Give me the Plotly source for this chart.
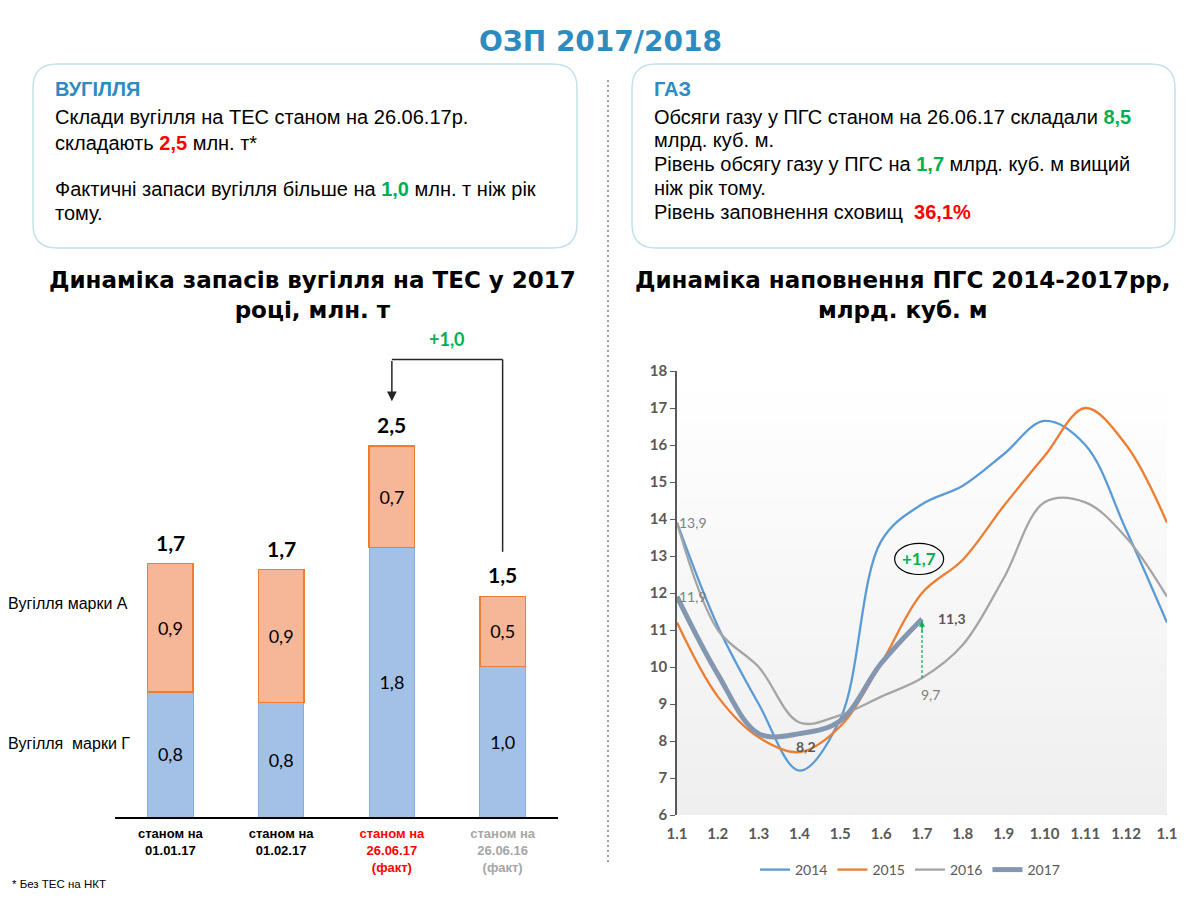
import plotly.graph_objects as go

# ---------------- data ----------------
coal_categories = ["01.01.17", "01.02.17", "26.06.17", "26.06.16"]
coal_grade_g = [0.84, 0.77, 1.81, 1.01]   # Вугілля марки Г
coal_grade_a = [0.86, 0.89, 0.68, 0.47]   # Вугілля марки А

months = ["1.1", "1.2", "1.3", "1.4", "1.5", "1.6", "1.7", "1.8", "1.9", "1.10", "1.11", "1.12", "1.1"]
gas_2014 = [13.9, 11.1, 9.0, 7.2, 8.6, 13.4, 14.4, 14.9, 15.75, 16.65, 16.0, 13.7, 11.2]
gas_2015 = [11.2, 9.2, 8.1, 7.7, 8.4, 10.1, 12.0, 12.9, 14.35, 15.7, 17.0, 16.0, 13.9]
gas_2016 = [13.9, 11.0, 10.0, 8.5, 8.7, 9.2, 9.7, 10.6, 12.4, 14.45, 14.45, 13.5, 11.9]
gas_2017 = [11.9, 9.8, 8.2, 8.2, 8.55, 10.1, 11.3]

# page is 1200x900; the browser body keeps an 8px margin around the figure
OFF = 8
W, H = 1200 - 2 * OFF, 900 - 2 * OFF


def px(x):
    return (x - OFF) / W


def py(y):
    return 1 - (y - OFF) / H


def fmt(v):
    return f"{v:.1f}".replace(".", ",")


fig = go.Figure()
annotations = []
shapes = []

# ---------------- bar chart ----------------
xi = list(range(len(coal_categories)))
fig.add_trace(go.Bar(
    x=xi, y=coal_grade_g, name="Вугілля марки Г",
    marker=dict(color="#a3c1e7", line=dict(color="#86acdc", width=1)),
    width=0.41, texttemplate="%{y:.1f}", textposition="inside",
    insidetextanchor="middle", textfont=dict(family="Lato", size=18, color="#000000"),
    showlegend=False, xaxis="x", yaxis="y", hoverinfo="skip"))
fig.add_trace(go.Bar(
    x=xi, y=coal_grade_a, name="Вугілля марки А",
    marker=dict(color="#f6b698", line=dict(color="#ED7D31", width=1.5)),
    width=0.41, texttemplate="%{y:.1f}", textposition="inside",
    insidetextanchor="middle", textfont=dict(family="Lato", size=18, color="#000000"),
    showlegend=False, xaxis="x", yaxis="y", hoverinfo="skip"))
totals = [g + a for g, a in zip(coal_grade_g, coal_grade_a)]
for i, t in zip(xi, totals):
    annotations.append(dict(x=i, y=t, xref="x", yref="y", text=f"<b>{fmt(t)}</b>", showarrow=False,
                            yanchor="bottom", yshift=7,
                            font=dict(family="Lato", size=21, color="#000000")))

label_colors = ["#000000", "#000000", "#FF0000", "#A6A6A6"]
ticktext = []
for cat, col in zip(coal_categories, label_colors):
    lines = ["станом на", cat]
    if col in ("#FF0000", "#A6A6A6"):
        lines.append("(факт)")
    ticktext.append("<br>".join(f"<span style='color:{col}'><b>{ln}</b></span>" for ln in lines))

# ---------------- line chart ----------------
mx = list(range(len(months)))
fig.add_trace(go.Scatter(x=mx, y=gas_2014, name="2014", mode="lines",
                         line=dict(color="#5B9BD5", width=2.3, shape="spline"),
                         xaxis="x2", yaxis="y2", cliponaxis=False))
fig.add_trace(go.Scatter(x=mx, y=gas_2015, name="2015", mode="lines",
                         line=dict(color="#ED7D31", width=2.3, shape="spline"),
                         xaxis="x2", yaxis="y2", cliponaxis=False))
fig.add_trace(go.Scatter(x=mx, y=gas_2016, name="2016", mode="lines",
                         line=dict(color="#A5A5A5", width=2.3, shape="spline"),
                         xaxis="x2", yaxis="y2", cliponaxis=False))
fig.add_trace(go.Scatter(x=mx[:len(gas_2017)], y=gas_2017, name="2017", mode="lines",
                         line=dict(color="#8497B0", width=5, shape="spline"),
                         xaxis="x2", yaxis="y2", cliponaxis=False))

# gradient background of line chart
N = 45
for i in range(N):
    t = i / (N - 1)
    c = int(round(0xEF + (0xFF - 0xEF) * t))
    shapes.append(dict(type="rect", xref="x2 domain", yref="y2 domain",
                       x0=0, x1=1, y0=i / N, y1=(i + 1) / N + 0.001,
                       fillcolor=f"rgb({c},{c},{c})", line=dict(width=0), layer="below"))


# rounded info boxes
def rrect(x0, y0, x1, y1, r):
    pts = [("M", (x0 + r, y0)), ("L", (x1 - r, y0)), ("Q", (x1, y0), (x1, y0 + r)),
           ("L", (x1, y1 - r)), ("Q", (x1, y1), (x1 - r, y1)), ("L", (x0 + r, y1)),
           ("Q", (x0, y1), (x0, y1 - r)), ("L", (x0, y0 + r)), ("Q", (x0, y0), (x0 + r, y0))]
    s = ""
    for p in pts:
        s += p[0] + " " + " ".join(f"{px(a):.5f},{py(b):.5f}" for a, b in p[1:]) + " "
    return s + "Z"


for bx0, bx1 in [(33, 577), (632, 1175)]:
    shapes.append(dict(type="path", xref="paper", yref="paper", path=rrect(bx0, 64, bx1, 248, 24),
                       line=dict(color="#c3e0ec", width=1.5), fillcolor="#ffffff", layer="below"))

# dashed separator
shapes.append(dict(type="line", xref="paper", yref="paper", x0=px(608), x1=px(608),
                   y0=py(80), y1=py(862), line=dict(color="#404040", width=1, dash="2px,3px")))

# arrow between bar 4 and bar 3
arr_top = totals[2] + 0.58
shapes.append(dict(type="line", xref="x", yref="y", x0=3, x1=3, y0=totals[3] + 0.3, y1=arr_top,
                   line=dict(color="#262626", width=1.5)))
shapes.append(dict(type="line", xref="x", yref="y", x0=2, x1=3, y0=arr_top, y1=arr_top,
                   line=dict(color="#262626", width=1.5)))
annotations.append(dict(x=2, y=totals[2] + 0.3, ax=2, ay=arr_top, xref="x", yref="y",
                        axref="x", ayref="y", text="", showarrow=True, arrowhead=2,
                        arrowsize=1.3, arrowwidth=1.5, arrowcolor="#262626"))
annotations.append(dict(x=2.5, y=arr_top + 0.14, xref="x", yref="y", text="<b>+1,0</b>",
                        showarrow=False, font=dict(family="Lato", size=18, color="#00B050")))

# green dashed arrow 9,7 -> 11,3
shapes.append(dict(type="line", xref="x2", yref="y2", x0=6, x1=6, y0=gas_2016[6], y1=gas_2017[6] - 0.2,
                   line=dict(color="#00B050", width=1.2, dash="3px,2px")))
annotations.append(dict(x=6, y=gas_2017[6] - 0.05, ax=6, ay=gas_2017[6] - 0.4, xref="x2", yref="y2",
                        axref="x2", ayref="y2", text="", showarrow=True, arrowhead=2,
                        arrowsize=1, arrowwidth=1.2, arrowcolor="#00B050"))
# ellipse +1,7
shapes.append(dict(type="circle", xref="x2", yref="y2", x0=5.33, x1=6.53, y0=12.5, y1=13.34,
                   line=dict(color="#000000", width=1.2)))
annotations.append(dict(x=5.93, y=12.92, xref="x2", yref="y2", text="<b>+1,7</b>", showarrow=False,
                        font=dict(family="Lato", size=17, color="#00B050")))

# data labels on line chart
annotations += [
    dict(x=0, y=gas_2016[0], xref="x2", yref="y2", text=fmt(gas_2016[0]), showarrow=False,
         xanchor="left", xshift=0, font=dict(family="Lato", size=14, color="#7F7F7F")),
    dict(x=0, y=gas_2017[0], xref="x2", yref="y2", text=fmt(gas_2017[0]), showarrow=False,
         xanchor="left", xshift=0, font=dict(family="Lato", size=14, color="#7F7F7F")),
    dict(x=3, y=gas_2017[3], xref="x2", yref="y2", text="<b>" + fmt(gas_2017[3]) + "</b>",
         showarrow=False, yanchor="top", yshift=-2, xshift=6,
         font=dict(family="Lato", size=14, color="#595959")),
    dict(x=6, y=gas_2016[6], xref="x2", yref="y2", text=fmt(gas_2016[6]), showarrow=False,
         yanchor="top", yshift=-6, xshift=8, font=dict(family="Lato", size=14, color="#7F7F7F")),
    dict(x=6, y=gas_2017[6], xref="x2", yref="y2", text="<b>" + fmt(gas_2017[6]) + "</b>",
         showarrow=False, xanchor="left", xshift=14, font=dict(family="Lato", size=14, color="#595959")),
]

# titles
annotations += [
    dict(x=px(600), y=py(42), xref="paper", yref="paper", xanchor="center", yanchor="middle",
         text="<b>ОЗП 2017/2018</b>", showarrow=False,
         font=dict(family="DejaVu Sans", size=28, color="#2E8BC0")),
    dict(x=px(312), y=py(295), xref="paper", yref="paper", xanchor="center", yanchor="middle",
         text="<b>Динаміка запасів вугілля на ТЕС у 2017<br>році, млн. т</b>", showarrow=False,
         font=dict(family="DejaVu Sans", size=23, color="#000000")),
    dict(x=px(903), y=py(295), xref="paper", yref="paper", xanchor="center", yanchor="middle",
         text="<b>Динаміка наповнення ПГС 2014-2017рр,<br>млрд. куб. м</b>", showarrow=False,
         font=dict(family="DejaVu Sans", size=23, color="#000000")),
]

# info box texts, one annotation per line
G = "<b><span style='color:#00B050'>{}</span></b>"
R = "<b><span style='color:#FF0000'>{}</span></b>"
B = "<b><span style='color:#2E8BC0'>{}</span></b>"
coal_box = [
    (89, B.format("ВУГІЛЛЯ")),
    (117, "Склади вугілля на ТЕС станом на 26.06.17р."),
    (143, "складають " + R.format("2,5") + " млн. т*"),
    (189, "Фактичні запаси вугілля більше на " + G.format("1,0") + " млн. т ніж рік"),
    (213, "тому."),
]
gas_box = [
    (89, B.format("ГАЗ")),
    (117, "Обсяги газу у ПГС станом на 26.06.17 складали " + G.format("8,5")),
    (140, "млрд. куб. м."),
    (164, "Рівень обсягу газу у ПГС на " + G.format("1,7") + " млрд. куб. м вищий"),
    (188, "ніж рік тому."),
    (212, "Рівень заповнення сховищ\u00a0 " + R.format("36,1%")),
]
for x0, box in [(55, coal_box), (654, gas_box)]:
    for yy, txt in box:
        annotations.append(dict(x=px(x0), y=py(yy), xref="paper", yref="paper", xanchor="left",
                                yanchor="middle", text=txt, showarrow=False, borderpad=0, borderwidth=0,
                                font=dict(family="Liberation Sans", size=20, color="#000000")))

annotations += [
    dict(x=px(8), y=py(603), xref="paper", yref="paper", xanchor="left", yanchor="middle",
         text="Вугілля марки А", showarrow=False, borderpad=0, borderwidth=0,
         font=dict(family="Liberation Sans", size=16, color="#000000")),
    dict(x=px(8), y=py(743), xref="paper", yref="paper", xanchor="left", yanchor="middle",
         text="Вугілля\u00a0 марки Г", showarrow=False, borderpad=0, borderwidth=0,
         font=dict(family="Liberation Sans", size=16, color="#000000")),
    dict(x=px(12), y=py(884), xref="paper", yref="paper", xanchor="left", yanchor="middle",
         text="* Без ТЕС на НКТ", showarrow=False, borderpad=0, borderwidth=0,
         font=dict(family="Liberation Sans Narrow, Liberation Sans", size=11.5, color="#000000")),
]

# bar chart vertical scale: 149 px per unit, baseline at page y=817
BAR_TOP_PX = 318
bar_range_top = (817 - BAR_TOP_PX) / 149.0

fig.update_layout(
    width=W, height=H, margin=dict(l=0, r=0, t=0, b=0, autoexpand=False),
    paper_bgcolor="#ffffff", plot_bgcolor="rgba(0,0,0,0)",
    separators=",.", barmode="stack", bargap=0.5,
    font=dict(family="Liberation Sans", color="#000000"),
    xaxis=dict(domain=[px(115), px(558)], range=[-0.5, 3.5], tickvals=xi, ticktext=ticktext,
               showline=True, linecolor="#000000", linewidth=1.5, ticks="", showgrid=False,
               zeroline=False, tickfont=dict(family="Liberation Sans", size=13), fixedrange=True,
               ticklabelstandoff=4),
    yaxis=dict(domain=[py(817), py(BAR_TOP_PX)], range=[0, bar_range_top], visible=False,
               fixedrange=True),
    xaxis2=dict(domain=[px(677), px(1167)], range=[0, 12], tickvals=mx, ticktext=months,
                showline=False, ticks="", showgrid=False, zeroline=False, anchor="y2",
                tickfont=dict(family="Lato", size=15, color="#595959", weight="bold"),
                ticklabelstandoff=8),
    yaxis2=dict(domain=[py(815), py(371)], range=[6, 18], dtick=1, anchor="x2",
                showline=True, linecolor="#595959", linewidth=1.5, ticks="outside", ticklen=5,
                tickcolor="#595959", showgrid=False, zeroline=False,
                tickfont=dict(family="Lato", size=15, color="#595959", weight="bold")),
    legend=dict(orientation="h", x=px(910), xanchor="center", y=py(870), yanchor="middle",
                font=dict(family="Lato", size=14, color="#595959"), itemwidth=30,
                bgcolor="rgba(0,0,0,0)", traceorder="normal"),
    shapes=shapes, annotations=annotations,
)

fig.write_html("out.html", config={"displayModeBar": False})
